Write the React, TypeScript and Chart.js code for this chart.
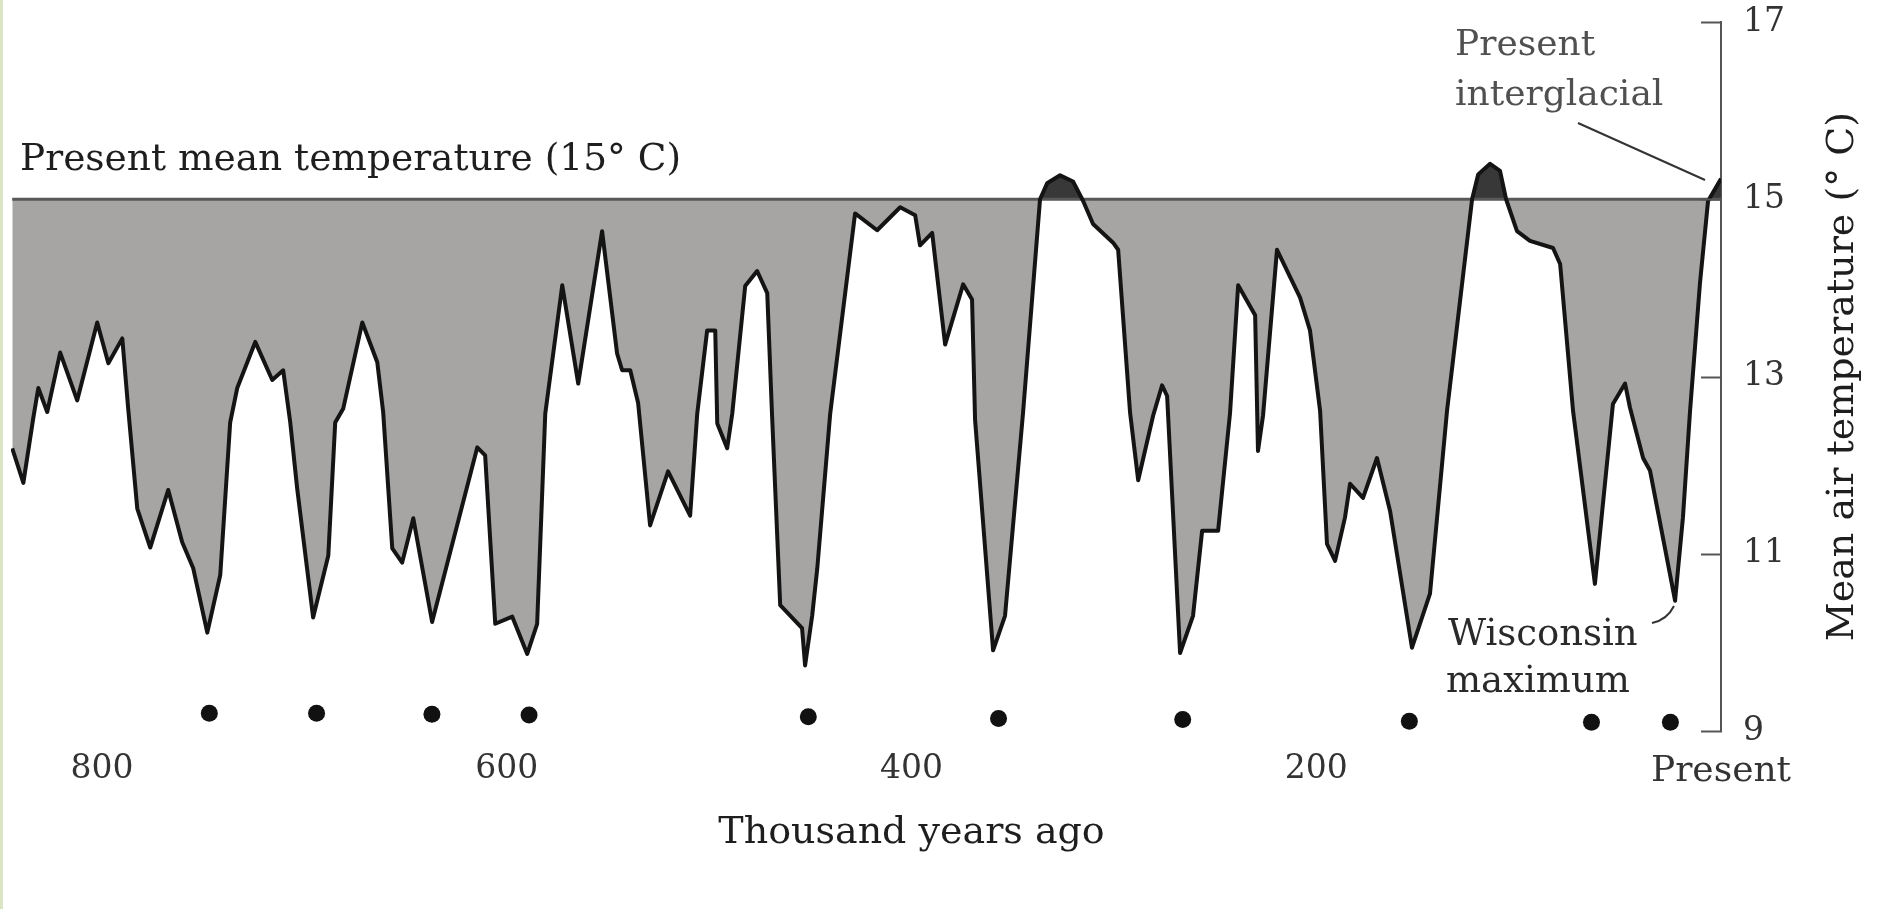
import React, { useEffect, useRef } from "react";
import { Chart, registerables } from "chart.js";

Chart.register(...registerables);

// Thousand years ago
const years = [
  844.4, 838.9, 834.0, 831.5, 827.1, 820.7, 812.3, 802.4, 796.9, 790.0,
  787.1, 782.6, 776.2, 767.3, 760.4, 755.0, 748.0, 741.6, 736.7, 733.2,
  724.3, 715.9, 710.5, 707.0, 703.6, 695.7, 688.2, 684.8, 680.8, 671.4,
  664.0, 661.1, 656.6, 651.7, 646.2, 636.9, 614.6, 610.7, 605.7, 597.3,
  589.9, 585.0, 581.0, 572.6, 564.7, 552.9, 545.5, 543.0, 539.0, 535.1,
  529.2, 520.3, 509.4, 505.9, 501.0, 497.0, 496.0, 491.1, 488.6, 482.2,
  476.3, 471.3, 468.9, 464.9, 454.1, 452.6, 449.1, 446.6, 440.2, 427.9,
  417.0, 405.6, 398.2, 395.8, 389.8, 383.4, 374.5, 370.1, 368.6, 359.7,
  353.8, 344.9, 336.5, 333.0, 326.6, 320.2, 315.2, 310.3, 300.4, 297.9,
  292.0, 288.0, 280.6, 276.2, 273.7, 267.3, 260.9, 256.4, 248.5, 242.6,
  238.6, 230.2, 228.8, 226.3, 219.4, 208.0, 203.1, 198.1, 194.7, 190.7,
  185.8, 183.3, 176.9, 170.0, 163.5, 152.7, 143.8, 135.4, 123.0, 120.0,
  114.1, 109.2, 106.2, 100.8, 94.4, 83.0, 79.5, 73.1, 62.3, 53.4,
  47.4, 45.0, 38.5, 35.1, 22.7, 18.8, 15.3, 10.4, 6.4, 0,
];

// Mean air temperature (°C)
const temps = [
  12.19, 11.8, 12.53, 12.87, 12.6, 13.27, 12.73, 13.61, 13.15, 13.43,
  12.64, 11.51, 11.07, 11.72, 11.13, 10.84, 10.11, 10.76, 12.48, 12.87,
  13.39, 12.96, 13.07, 12.48, 11.74, 10.28, 10.98, 12.48, 12.64, 13.61,
  13.16, 12.6, 11.06, 10.9, 11.4, 10.23, 12.2, 12.11, 10.21, 10.29,
  9.87, 10.21, 12.58, 14.03, 12.92, 14.64, 13.26, 13.07, 13.07, 12.7,
  11.32, 11.93, 11.43, 12.58, 13.52, 13.52, 12.47, 12.19, 12.58, 14.02,
  14.19, 13.94, 12.55, 10.42, 10.16, 9.74, 10.3, 10.83, 12.58, 14.84,
  14.65, 14.91, 14.82, 14.48, 14.62, 13.36, 14.04, 13.87, 12.51, 9.91,
  10.3, 12.59, 15.0, 15.18, 15.27, 15.2, 14.98, 14.72, 14.51, 14.43,
  12.59, 11.83, 12.56, 12.9, 12.78, 9.88, 10.3, 11.26, 11.26, 12.59,
  14.03, 13.69, 12.16, 12.56, 14.43, 13.89, 13.52, 12.61, 11.11, 10.92,
  11.41, 11.79, 11.63, 12.08, 11.48, 9.94, 10.55, 12.61, 15.0, 15.28,
  15.4, 15.32, 15.0, 14.64, 14.53, 14.45, 14.27, 12.61, 10.66, 12.69,
  12.92, 12.65, 12.08, 11.94, 10.47, 11.41, 12.61, 14.05, 14.98, 15.23,
];

// Glacial-maximum markers (dots under the curve)
const markerYears = [747, 694, 637, 589, 451, 357, 266, 154, 64, 25];
const markerTemps = [9.2, 9.2, 9.19, 9.18, 9.16, 9.14, 9.13, 9.11, 9.1, 9.1];

const presentMeanTemp = 15;
const xTickValues = [800, 600, 400, 200, 0];
const yTickValues = [9, 11, 13, 15, 17];

const SERIF = "'DejaVu Serif', serif";

const annotationPlugin = {
  id: "figureAnnotations",
  afterDraw(chart: any) {
    const { ctx, chartArea, scales } = chart;
    const xs = scales.x;
    const ys = scales.y;
    ctx.save();

    // pale border at the left edge of the scan
    ctx.fillStyle = "#dbe5c6";
    ctx.fillRect(0, 0, 3, chart.height);

    // inward tick marks on the right axis
    ctx.strokeStyle = "#555";
    ctx.lineWidth = 2;
    for (const v of yTickValues) {
      const py = Math.round(ys.getPixelForValue(v)) + 0.5;
      ctx.beginPath();
      ctx.moveTo(chartArea.right - 20, py);
      ctx.lineTo(chartArea.right + 1, py);
      ctx.stroke();
    }

    ctx.fillStyle = "#1e1e1e";
    ctx.textBaseline = "alphabetic";

    // reference line label
    ctx.font = `37.5px ${SERIF}`;
    ctx.textAlign = "left";
    ctx.fillText("Present mean temperature (15° C)", 20, 170);

    // present interglacial
    ctx.fillStyle = "#505050";
    ctx.font = `36px ${SERIF}`;
    ctx.fillText("Present", 1455, 55);
    ctx.fillText("interglacial", 1455, 105);
    ctx.strokeStyle = "#333";
    ctx.lineWidth = 2;
    ctx.beginPath();
    ctx.moveTo(1578, 123);
    ctx.lineTo(1705, 180);
    ctx.stroke();

    // Wisconsin maximum
    ctx.fillStyle = "#2a2a2a";
    ctx.font = `37px ${SERIF}`;
    ctx.fillText("Wisconsin", 1448, 645);
    ctx.fillText("maximum", 1446, 692);
    ctx.beginPath();
    ctx.moveTo(1652, 623);
    ctx.quadraticCurveTo(1667, 620, 1674, 606);
    ctx.stroke();

    // x-axis title
    ctx.fillStyle = "#1e1e1e";
    ctx.font = `38px ${SERIF}`;
    ctx.textAlign = "center";
    ctx.fillText("Thousand years ago", xs.getPixelForValue(400), 843);

    // y-axis title, reading upward
    ctx.save();
    ctx.translate(1853, ys.getPixelForValue(13));
    ctx.rotate(-Math.PI / 2);
    ctx.textAlign = "center";
    ctx.font = `38px ${SERIF}`;
    ctx.fillText("Mean air temperature (° C)", 0, 0);
    ctx.restore();

    ctx.restore();
  },
};

export default function App() {
  const canvasRef = useRef<HTMLCanvasElement | null>(null);

  useEffect(() => {
    if (!canvasRef.current) return;
    const curve = years.map((yr, i) => ({ x: yr, y: temps[i] }));
    const markers = markerYears.map((yr, i) => ({ x: yr, y: markerTemps[i] }));
    const refLine = [
      { x: years[0], y: presentMeanTemp },
      { x: years[years.length - 1], y: presentMeanTemp },
    ];

    const chart = new Chart(canvasRef.current, {
      type: "line",
      data: {
        datasets: [
          {
            label: "Mean air temperature",
            data: curve,
            borderColor: "#141414",
            borderWidth: 4,
            pointRadius: 0,
            tension: 0,
            borderJoinStyle: "round",
            fill: {
              target: { value: presentMeanTemp },
              above: "#383838",
              below: "#a6a5a3",
            },
            order: 0,
          } as any,
          {
            label: "Present mean temperature",
            data: refLine,
            borderColor: "#585858",
            borderWidth: 3,
            pointRadius: 0,
            fill: false,
            order: 1,
          },
          {
            type: "scatter",
            label: "Glacial maxima",
            data: markers,
            backgroundColor: "#111",
            borderWidth: 0,
            pointRadius: 8.5,
            showLine: false,
            order: 2,
          } as any,
        ],
      },
      options: {
        animation: false,
        responsive: false,
        maintainAspectRatio: false,
        events: [],
        layout: { padding: { top: 22, left: 11, right: 0, bottom: 0 } },
        plugins: {
          legend: { display: false },
          tooltip: { enabled: false },
          title: { display: false },
          filler: { drawTime: "beforeDatasetsDraw" },
        } as any,
        scales: {
          x: {
            type: "linear",
            reverse: true,
            min: 0,
            max: 845,
            afterBuildTicks: (s: any) => {
              s.ticks = xTickValues.map((v) => ({ value: v }));
            },
            afterFit: (s: any) => {
              s.height = 178;
              s.paddingLeft = 0;
              s.paddingRight = 0;
            },
            grid: { display: false, drawTicks: false },
            border: { display: false },
            ticks: {
              autoSkip: false,
              maxRotation: 0,
              padding: 19,
              color: "#333",
              font: (c: any) => ({
                family: SERIF,
                size: c.tick && c.tick.value === 0 ? 36 : 33,
              }),
              callback: (v: any) => (Number(v) === 0 ? "Present" : String(v)),
            },
          },
          y: {
            type: "linear",
            position: "right",
            min: 9,
            max: 17,
            afterBuildTicks: (s: any) => {
              s.ticks = yTickValues.map((v) => ({ value: v }));
            },
            afterFit: (s: any) => {
              s.width = 157;
              s.paddingTop = 0;
              s.paddingBottom = 0;
            },
            grid: { display: false, drawTicks: false },
            border: { display: true, color: "#555", width: 2 },
            ticks: {
              padding: 22,
              color: "#333",
              font: { family: SERIF, size: 33 },
            },
          },
        },
      },
      plugins: [annotationPlugin],
    });

    return () => chart.destroy();
  }, []);

  return (
    <div
      style={{
        position: "fixed",
        left: 0,
        top: 0,
        width: 1878,
        height: 909,
        background: "#ffffff",
      }}
    >
      <canvas
        ref={canvasRef}
        width={1878}
        height={909}
        style={{ display: "block", width: 1878, height: 909 }}
      />
    </div>
  );
}
